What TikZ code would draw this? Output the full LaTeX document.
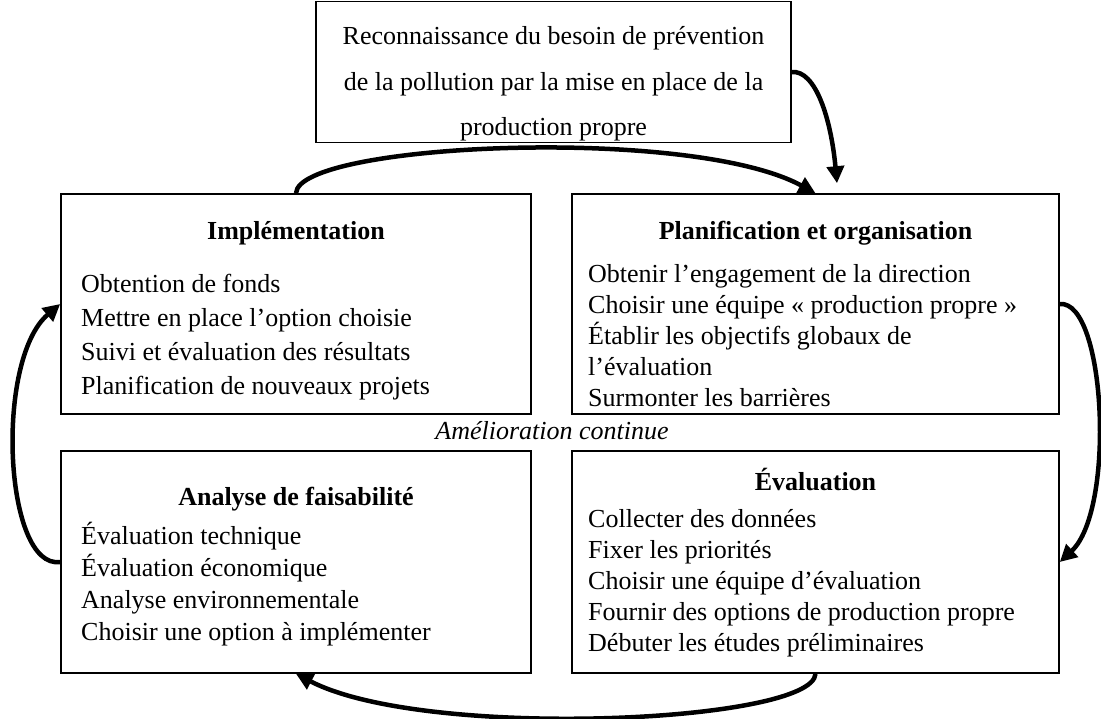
\documentclass[tikz,border=0pt]{standalone}
\usepackage{fontspec}
\setmainfont{Liberation Serif}
\usetikzlibrary{arrows.meta}
\tikzset{
  box/.style={draw=black, line width=1.6pt, rectangle, inner sep=0pt},
  txt/.style={inner sep=0pt, font=\fontsize{26}{31}\selectfont},
  ttl/.style={txt, anchor=base, font=\fontsize{26}{31}\selectfont\bfseries},
  itm/.style={txt, anchor=base west},
  cyc/.style={line width=4.5pt, -{Triangle[length=17pt,width=17pt]}}
}
\begin{document}
\begin{tikzpicture}[x=1pt,y=-1pt]
\useasboundingbox (0,0) rectangle (1101,718);
% boxes
\node[box, minimum width=475pt, minimum height=141pt] (top) at (553.5,72) {};
\node[box, minimum width=470pt, minimum height=220pt] (impl) at (296,304) {};
\node[box, minimum width=487pt, minimum height=220pt] (plan) at (815.5,304) {};
\node[box, minimum width=470pt, minimum height=222pt] (ana) at (296,562) {};
\node[box, minimum width=487pt, minimum height=222pt] (eval) at (815.5,562) {};
% top box text
\node[txt, anchor=base] (t1) at (553.5,44) {Reconnaissance du besoin de prévention};
\node[txt, anchor=base] (t2) at (553.5,90) {de la pollution par la mise en place de la};
\node[txt, anchor=base] (t3) at (553.5,135) {production propre};
% Implementation
\node[ttl] (implT) at (296,239) {Implémentation};
\node[itm] (i1) at (81,292) {Obtention de fonds};
\node[itm] (i2) at (81,326) {Mettre en place l’option choisie};
\node[itm] (i3) at (81,360) {Suivi et évaluation des résultats};
\node[itm] (i4) at (81,394) {Planification de nouveaux projets};
% Planification
\node[ttl] (planT) at (815.5,239) {Planification et organisation};
\node[itm] (p1) at (588,282) {Obtenir l’engagement de la direction};
\node[itm] (p2) at (588,313) {Choisir une équipe « production propre »};
\node[itm] (p3) at (588,344) {Établir les objectifs globaux de};
\node[itm] (p4) at (588,375) {l’évaluation};
\node[itm] (p5) at (588,406) {Surmonter les barrières};
% centre label
\node[txt, anchor=base, font=\fontsize{26}{31}\selectfont\itshape] (amel) at (552,439) {Amélioration continue};
% Analyse
\node[ttl] (anaT) at (296,505) {Analyse de faisabilité};
\node[itm] (a1) at (81,544) {Évaluation technique};
\node[itm] (a2) at (81,576) {Évaluation économique};
\node[itm] (a3) at (81,608) {Analyse environnementale};
\node[itm] (a4) at (81,640) {Choisir une option à implémenter};
% Evaluation
\node[ttl] (evalT) at (815.5,490) {Évaluation};
\node[itm] (e1) at (588,527) {Collecter des données};
\node[itm] (e2) at (588,558) {Fixer les priorités};
\node[itm] (e3) at (588,589) {Choisir une équipe d’évaluation};
\node[itm] (e4) at (588,620) {Fournir des options de production propre};
\node[itm] (e5) at (588,651) {Débuter les études préliminaires};
% connectors
\coordinate (planIn) at ([xshift=21.5pt,yshift=10pt]plan.north);
\draw[cyc] (top.east) .. controls +(24,-2) and +(-6,-64) .. (planIn);
\draw[cyc] (impl.north) .. controls +(2,-50) and +(-125.5,-68) .. (plan.north);
\draw[cyc] (plan.east) .. controls +(46,-4) and +(56,-52) .. (eval.east);
\draw[cyc] (eval.south) .. controls +(-2.5,49) and +(129,67) .. (ana.south);
\draw[cyc] (ana.west) .. controls +(-56,8) and +(-66,56) .. (impl.west);
\end{tikzpicture}
\end{document}
